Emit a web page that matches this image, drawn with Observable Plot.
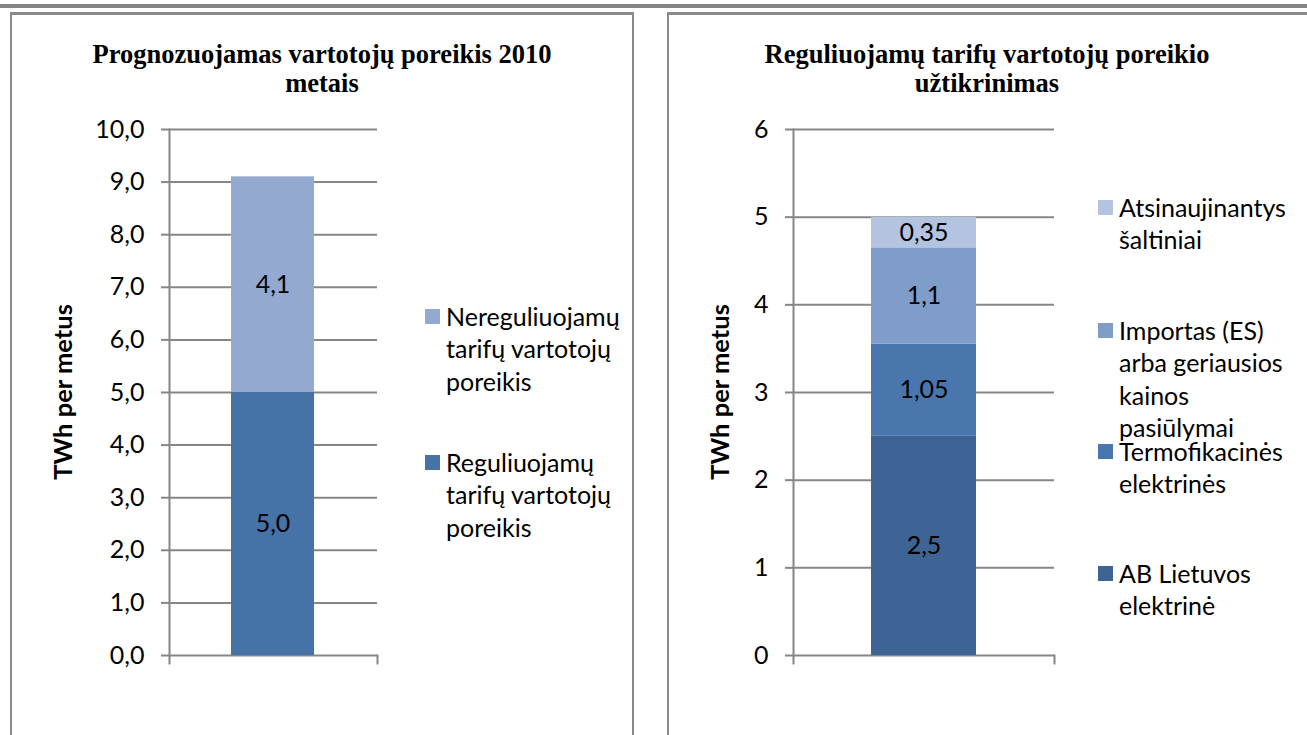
<!DOCTYPE html>
<html><head><meta charset="utf-8">
<script src="https://cdn.jsdelivr.net/npm/d3@7"></script>
<script src="https://cdn.jsdelivr.net/npm/@observablehq/plot@0.6"></script>
<style>
html,body{margin:0;padding:0;background:#fff;}
body{width:1307px;height:735px;overflow:hidden;position:relative;font-family:Lato,sans-serif;color:#000;}
.topline{position:absolute;left:0;top:4px;width:1307px;height:4px;background:#858585;}
.panel{position:absolute;top:12px;height:760px;border:solid #8a8a8a;border-width:3px 2px 0 2px;box-sizing:border-box;}
.title{position:absolute;font-family:"Liberation Serif",serif;font-weight:bold;font-size:26.5px;line-height:29px;text-align:center;white-space:nowrap;transform:translateX(-50%);}
.ylab{position:absolute;font-weight:bold;font-size:25.5px;transform:translate(-50%,-50%) rotate(-90deg);white-space:nowrap;}
.leg{position:absolute;font-size:25px;line-height:32.5px;white-space:pre;}
.sw{position:absolute;width:15px;height:15px;}
.chart{position:absolute;top:100px;}
</style>
</head><body>
<div class="topline"></div>
<div class="panel" style="left:10px;width:624px;"></div>
<div class="panel" style="left:667px;width:660px;"></div>
<script>
// ---- Left chart data ----
const leftCategory = ["2010"];
const leftSeries = ["Reguliuojamų tarifų vartotojų poreikis", "Nereguliuojamų tarifų vartotojų poreikis"];
const leftValues = [5.0, 4.1];
const leftValueLabels = ["5,0", "4,1"];
const leftColors = ["#4572A7", "#94A9D0"];
const leftTicks = [0, 1, 2, 3, 4, 5, 6, 7, 8, 9, 10];
const leftTickLabels = ["0,0", "1,0", "2,0", "3,0", "4,0", "5,0", "6,0", "7,0", "8,0", "9,0", "10,0"];
const leftTitle = ["Prognozuojamas vartotojų poreikis 2010", "metais"];
const leftLegendLines = ["Reguliuojamų\ntarifų vartotojų\nporeikis", "Nereguliuojamų\ntarifų vartotojų\nporeikis"];

// ---- Right chart data ----
const rightCategory = ["2010"];
const rightSeries = ["AB Lietuvos elektrinė", "Termofikacinės elektrinės", "Importas (ES) arba geriausios kainos pasiūlymai", "Atsinaujinantys šaltiniai"];
const rightValues = [2.5, 1.05, 1.1, 0.35];
const rightValueLabels = ["2,5", "1,05", "1,1", "0,35"];
const rightColors = ["#3D6494", "#4876AD", "#7F9DC8", "#B4C4E0"];
const rightTicks = [0, 1, 2, 3, 4, 5, 6];
const rightTickLabels = ["0", "1", "2", "3", "4", "5", "6"];
const rightTitle = ["Reguliuojamų tarifų vartotojų poreikio", "užtikrinimas"];
const rightLegendLines = ["AB Lietuvos\nelektrinė", "Termofikacinės\nelektrinės", "Importas (ES)\narba geriausios\nkainos\npasiūlymai", "Atsinaujinantys\nšaltiniai"];

const yTitle = "TWh per metus";
const gridColor = "#868686";

function chart(cfg) {
  const H = 600, mt = 29, mb = 45;
  const inner = H - mt - mb;
  const data = cfg.series.map((s, i) => ({cat: cfg.category[0], series: s, value: cfg.values[i], label: cfg.labels[i]}));
  return Plot.plot({
    width: cfg.width, height: H, marginTop: mt, marginBottom: mb,
    marginLeft: cfg.marginLeft, marginRight: cfg.marginRight,
    style: {background: "transparent", fontFamily: "Lato, sans-serif", fontSize: "25px", color: "#000", overflow: "visible"},
    x: {type: "band", domain: cfg.category, padding: 0.425, axis: null},
    y: {domain: [0, cfg.ticks[cfg.ticks.length - 1]], axis: null},
    color: {domain: cfg.series, range: cfg.colors},
    marks: [
      Plot.gridY(cfg.ticks, {stroke: gridColor, strokeOpacity: 1, strokeWidth: 2}),
      Plot.axisY(cfg.ticks, {tickSize: 8, tickPadding: 17, tickFormat: d => cfg.tickLabels[cfg.ticks.indexOf(d)], stroke: gridColor, strokeWidth: 2, fill: "#000", fontSize: 25, label: null}),
      Plot.barY(data, {x: "cat", y: "value", fill: "series"}),
      Plot.text(data, Plot.stackY({x: "cat", y: "value", text: "label", fill: "#000", fontSize: 25})),
      Plot.frame({anchor: "left", stroke: gridColor, strokeWidth: 2, insetBottom: -8}),
      Plot.frame({anchor: "right", stroke: gridColor, strokeWidth: 2, insetTop: inner, insetBottom: -8})
    ]
  });
}

function place(el, x, cls) {
  const d = document.createElement("div");
  d.className = cls; d.style.left = x + "px";
  d.appendChild(el);
  document.body.appendChild(d);
  return d;
}

place(chart({category: leftCategory, series: leftSeries, values: leftValues, labels: leftValueLabels, colors: leftColors,
  ticks: leftTicks, tickLabels: leftTickLabels, width: 380, marginLeft: 149, marginRight: 23}), 20, "chart");
place(chart({category: rightCategory, series: rightSeries, values: rightValues, labels: rightValueLabels, colors: rightColors,
  ticks: rightTicks, tickLabels: rightTickLabels, width: 400, marginLeft: 113, marginRight: 26}), 680, "chart");

function title(lines, cx) {
  const t = document.createElement("div");
  t.className = "title"; t.style.left = cx + "px"; t.style.top = "40px";
  t.innerHTML = lines.join("<br>");
  document.body.appendChild(t);
}
title(leftTitle, 322);
title(rightTitle, 987);

function ylab(cx) {
  const t = document.createElement("div");
  t.className = "ylab"; t.style.left = cx + "px"; t.style.top = "392px";
  t.textContent = yTitle;
  document.body.appendChild(t);
}
ylab(62); ylab(719);

function legendItem(text, color, sx, tx, cy) {
  const s = document.createElement("div");
  s.className = "sw"; s.style.left = sx + "px"; s.style.top = (cy - 7.5) + "px"; s.style.background = color;
  document.body.appendChild(s);
  const t = document.createElement("div");
  t.className = "leg"; t.style.left = tx + "px"; t.style.top = (cy - 16.25) + "px";
  t.textContent = text;
  document.body.appendChild(t);
}
const leftLegendY = [316, 462];
legendItem(leftLegendLines[1], leftColors[1], 425, 446, leftLegendY[0]);
legendItem(leftLegendLines[0], leftColors[0], 425, 446, leftLegendY[1]);
const rightLegendY = [207, 330, 451, 573];
[3, 2, 1, 0].forEach((k, j) => legendItem(rightLegendLines[k], rightColors[k], 1098, 1119, rightLegendY[j]));
</script>
</body></html>
